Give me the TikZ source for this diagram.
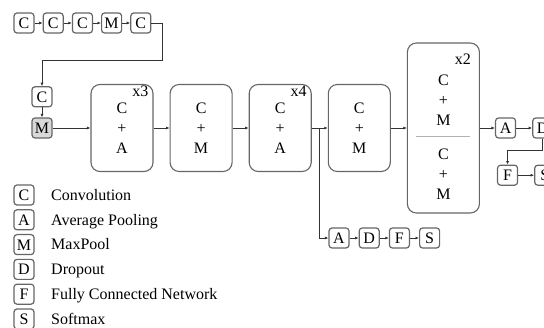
\documentclass[tikz,border=0pt]{standalone}
\usepackage{fontspec}
\setmainfont{Liberation Serif}
\usetikzlibrary{arrows.meta,positioning,calc}

\begin{document}
\begin{tikzpicture}[
    x=1pt, y=-1pt,
    font=\fontsize{16}{20}\selectfont,
    node distance=16pt,
    layer/.style={draw=black!60, line width=1.1pt, rounded corners=9pt, align=center, minimum width=62pt, minimum height=87pt, inner sep=0pt},
    op/.style={draw=black!60, line width=1.2pt, rounded corners=3pt, fill=white, minimum width=20pt, minimum height=20pt, inner sep=1.5pt, text height=11pt, text depth=0pt},
    rep/.style={anchor=base east, inner sep=0pt},
    desc/.style={anchor=base west, inner sep=0pt},
    line/.style={-{Latex[length=3.5pt,width=3pt]}, draw=black!80, line width=0.8pt},
    link/.style={draw=black!80, line width=0.8pt}
]
    \useasboundingbox (0,0) rectangle (544,328);

    \node[op] (c1) at (24,23) {C};
    \node[op, right=8pt of c1] (c2) {C};
    \node[op, right=8pt of c2] (c3) {C};
    \node[op, right=8pt of c3] (m1) {M};
    \node[op, right=8pt of m1] (c4) {C};

    \node[op, fill=black!15] (sm) at (42,128) {M};
    \node[op, above=10pt of sm] (sc) {C};

    \node[layer] (b1) at (122,128) {C\\+\\A};
    \node[layer, right=of b1] (b2) {C\\+\\M};
    \node[layer, right=of b2] (b3) {C\\+\\A};
    \node[layer, right=of b3] (b4) {C\\+\\M};
    \node[layer, minimum width=72pt, minimum height=170pt, right=of b4] (b5) {};
    \node[align=center] (b5a) at ($(b5)+(0,-28)$) {C\\+\\M};
    \node[align=center] (b5b) at ($(b5)+(0,46)$) {C\\+\\M};
    \draw[black!30, line width=0.8pt] ($(b5.west)+(9,8)$) -- ($(b5.east)+(-10,8)$);

    \node[rep] (r1) at ($(b1.north east)+(-5,13)$) {x3};
    \node[rep] (r3) at ($(b3.north east)+(-5,13)$) {x4};
    \node[rep] (r5) at ($(b5.north east)+(-9,22)$) {x2};

    \node[op, right=15pt of b5] (ra) {A};
    \node[op, right=16pt of ra] (rd) {D};
    \node[op, below=26pt of ra, xshift=2pt] (rf) {F};
    \node[op, right=16pt of rf] (rs) {S};

    \coordinate (j) at ($(b3.east)!0.5!(b4.west)$);
    \node[op] (ba) at (339,238) {A};
    \node[op, right=9pt of ba] (bd) {D};
    \node[op, right=9pt of bd] (bf) {F};
    \node[op, right=9pt of bf] (bs) {S};

    \foreach \k/\name [count=\i from 0] in {C/Convolution, A/Average Pooling, M/MaxPool, D/Dropout, F/Fully Connected Network, S/Softmax}{
        \node[op] (key\i) at (24,195+24.8*\i) {\k};
        \node[desc] (txt\i) at (51,200.3+24.8*\i) {\name};
    }

    \draw[line] (c1) -- (c2);
    \draw[line] (c2) -- (c3);
    \draw[line] (c3) -- (m1);
    \draw[line] (m1) -- (c4);
    \draw[line] (c4.east) -| ++(11,37) -| (sc.north);
    \draw[line] (sc) -- (sm);
    \draw[line] (sm) -- (b1);
    \draw[line] (b1) -- (b2);
    \draw[line] (b2) -- (b3);
    \draw[link] (b3) -- (j);
    \draw[line] (j) -- (b4);
    \draw[line] (j) |- (ba);
    \draw[line] (ba) -- (bd);
    \draw[line] (bd) -- (bf);
    \draw[line] (bf) -- (bs);
    \draw[line] (b4) -- (b5);
    \draw[line] (b5) -- (ra);
    \draw[line] (ra) -- (rd);
    \draw[line] (rd.south) -- ++(0,12) -| (rf.north);
    \draw[line] (rf) -- (rs);
\end{tikzpicture}
\end{document}
